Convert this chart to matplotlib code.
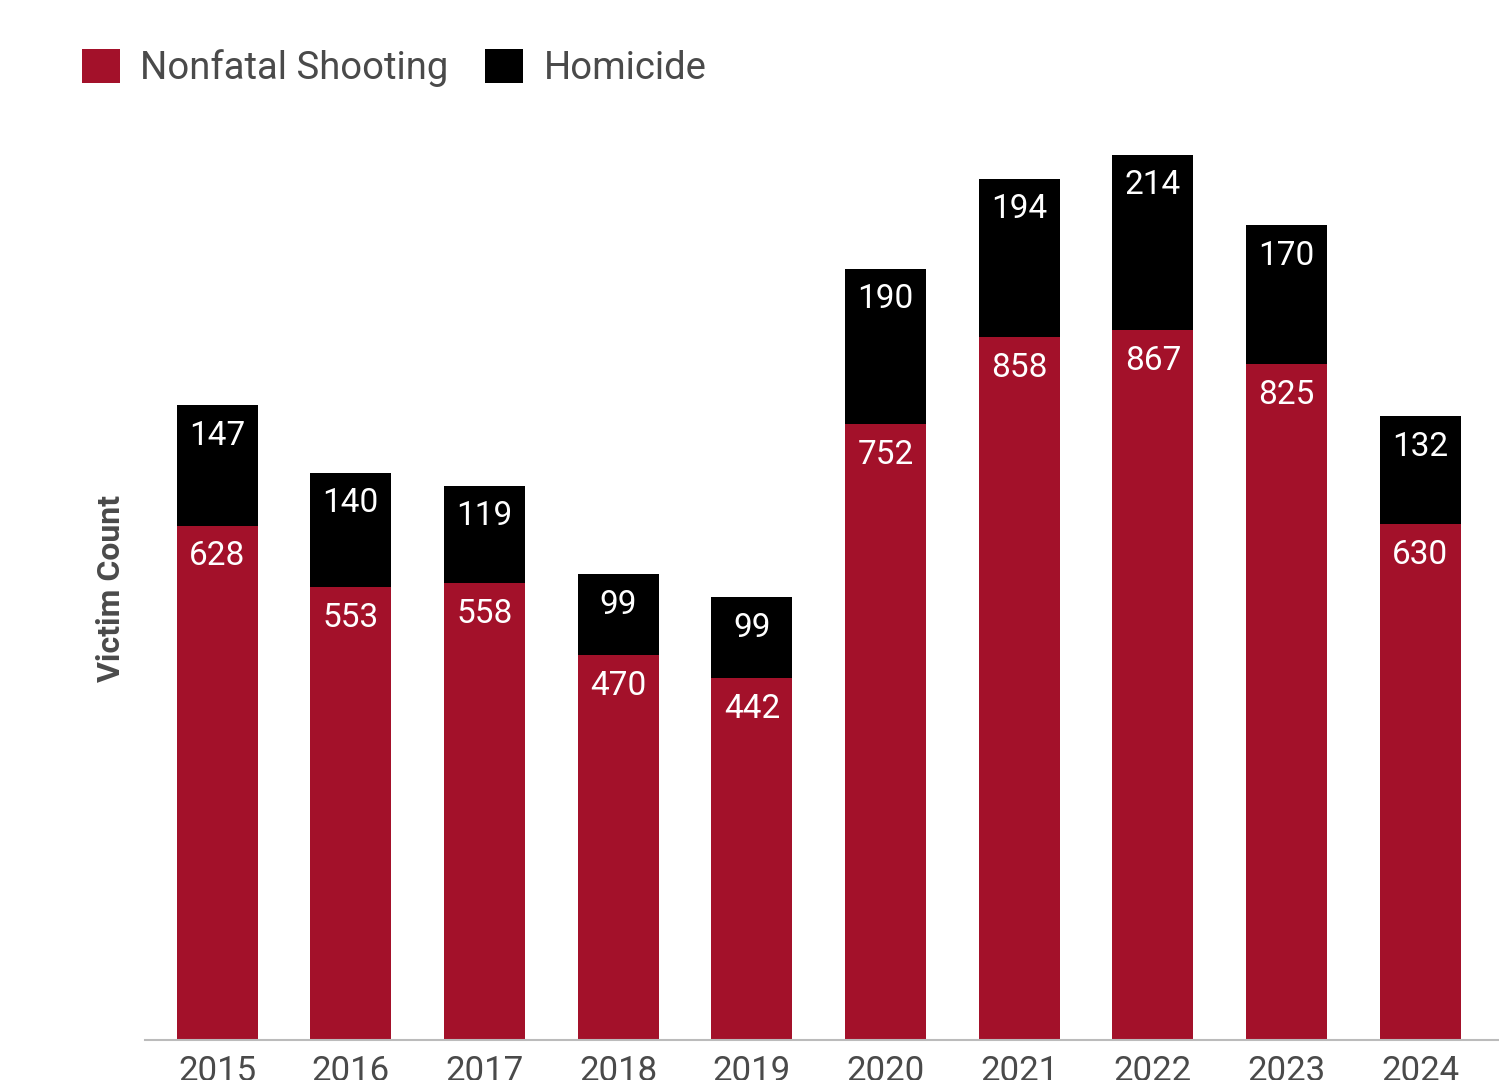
import numpy as np
import matplotlib.pyplot as plt

plt.rcParams['font.family'] = ['Roboto', 'DejaVu Sans']

years = ['2015', '2016', '2017', '2018', '2019', '2020', '2021', '2022', '2023', '2024']
nonfatal = [628, 553, 558, 470, 442, 752, 858, 867, 825, 630]
homicide = [147, 140, 119, 99, 99, 190, 194, 214, 170, 132]

red = '#a3112a'
grey_text = '#4a4a4a'

fig = plt.figure(figsize=(14.99, 10.8), dpi=100)
ax = fig.add_axes([145 / 1499, 40 / 1080, 1 - 145 / 1499, 940 / 1080])

x = np.arange(len(years))
w = 0.606
b1 = ax.bar(x, nonfatal, w, color=red, label='Nonfatal Shooting', zorder=2)
b2 = ax.bar(x, homicide, w, bottom=nonfatal, color='black', label='Homicide', zorder=2)

for i in range(len(years)):
    ax.annotate(str(nonfatal[i]), (x[i], nonfatal[i]), xytext=(0, -22), textcoords='offset points',
                ha='center', va='center', color='white', fontsize=24)
    ax.annotate(str(homicide[i]), (x[i], nonfatal[i] + homicide[i]), xytext=(0, -22),
                textcoords='offset points', ha='center', va='center', color='white', fontsize=24)

ax.set_xlim(-0.539, 9.589)
ax.set_ylim(0, 1148)
ax.set_xticks(x)
ax.set_xticklabels(years, fontsize=25, color=grey_text)
ax.tick_params(axis='x', length=0, pad=11)
ax.set_yticks([])
for s in ['top', 'right', 'left']:
    ax.spines[s].set_visible(False)
ax.spines['bottom'].set_color('#bbbbbb')
ax.spines['bottom'].set_linewidth(1.5)

fig.text(111 / 1499, 1 - 588 / 1080, 'Victim Count', rotation=90, ha='center', va='center',
         fontsize=23, fontweight='bold', color=grey_text)

leg = fig.legend(handles=[b1, b2], loc='center left', bbox_to_anchor=(82 / 1499, 1 - 68 / 1080),
                 ncol=2, frameon=False, fontsize=27.5, handlelength=1.0, handleheight=1.0,
                 handletextpad=0.53, columnspacing=0.95, borderpad=0, borderaxespad=0)
for t in leg.get_texts():
    t.set_color(grey_text)

fig.savefig('out.png', dpi=100)
